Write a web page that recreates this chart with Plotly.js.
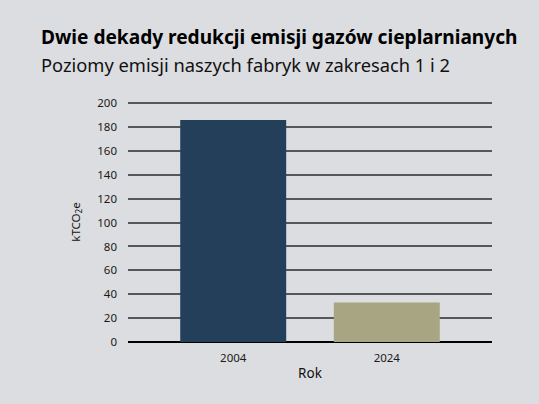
<!DOCTYPE html>
<html>
<head>
<meta charset="utf-8">
<script src="https://cdn.plot.ly/plotly-3.0.1.min.js"></script>
<style>
  html, body { margin: 0; padding: 0; background: #dcdde0; }
  #chart { width: 539px; height: 404px; }
</style>
</head>
<body>
<div id="chart"></div>
<script>
// Emissions in scopes 1 and 2, thousand tonnes CO2e
const years = ['2004', '2024'];
const emissions = [186, 33];
const barColors = ['#243f59', '#a8a582'];
const yTicks = [0, 20, 40, 60, 80, 100, 120, 140, 160, 180, 200];

const trace = {
    x: years,
    y: emissions,
    type: 'bar',
    width: 0.69,
    marker: { color: barColors },
    hoverinfo: 'x+y'
};

const layout = {
    width: 539,
    height: 404,
    margin: { l: 128, r: 47, t: 102, b: 62 },
    paper_bgcolor: '#dcdde0',
    plot_bgcolor: '#dcdde0',
    font: { family: 'Noto Sans, sans-serif', color: '#111' },
    showlegend: false,
    xaxis: {
        type: 'category',
        range: [-0.685, 1.685],
        showgrid: false,
        zeroline: false,
        showline: false,
        ticks: '',
        tickfont: { size: 11.5, color: '#1a1a1a' },
        ticklabelstandoff: 7,
        title: { text: 'Rok', font: { size: 13.5, color: '#111' }, standoff: 5 }
    },
    yaxis: {
        range: [0, 201],
        tickvals: yTicks,
        showgrid: true,
        gridcolor: '#55575a',
        gridwidth: 2,
        zeroline: true,
        zerolinecolor: '#000',
        zerolinewidth: 2,
        showline: false,
        ticks: '',
        ticklabelstandoff: 10,
        tickfont: { size: 11.5, color: '#1a1a1a' },
        title: { text: 'kTCO<sub>2</sub>e', font: { size: 11.5, color: '#111' }, standoff: 14 }
    },
    annotations: [
        {
            text: '<b>Dwie dekady redukcji emisji gazów cieplarnianych</b>',
            xref: 'paper', yref: 'paper', x: -0.245, y: 1.21,
            xanchor: 'left', yanchor: 'bottom', showarrow: false,
            font: { size: 19.1, color: '#000' }
        },
        {
            text: 'Poziomy emisji naszych fabryk w zakresach 1 i 2',
            xref: 'paper', yref: 'paper', x: -0.245, y: 1.095,
            xanchor: 'left', yanchor: 'bottom', showarrow: false,
            font: { size: 18.3, color: '#111' }
        }
    ]
};

Plotly.newPlot('chart', [trace], layout, { displayModeBar: false, staticPlot: true });
</script>
</body>
</html>
